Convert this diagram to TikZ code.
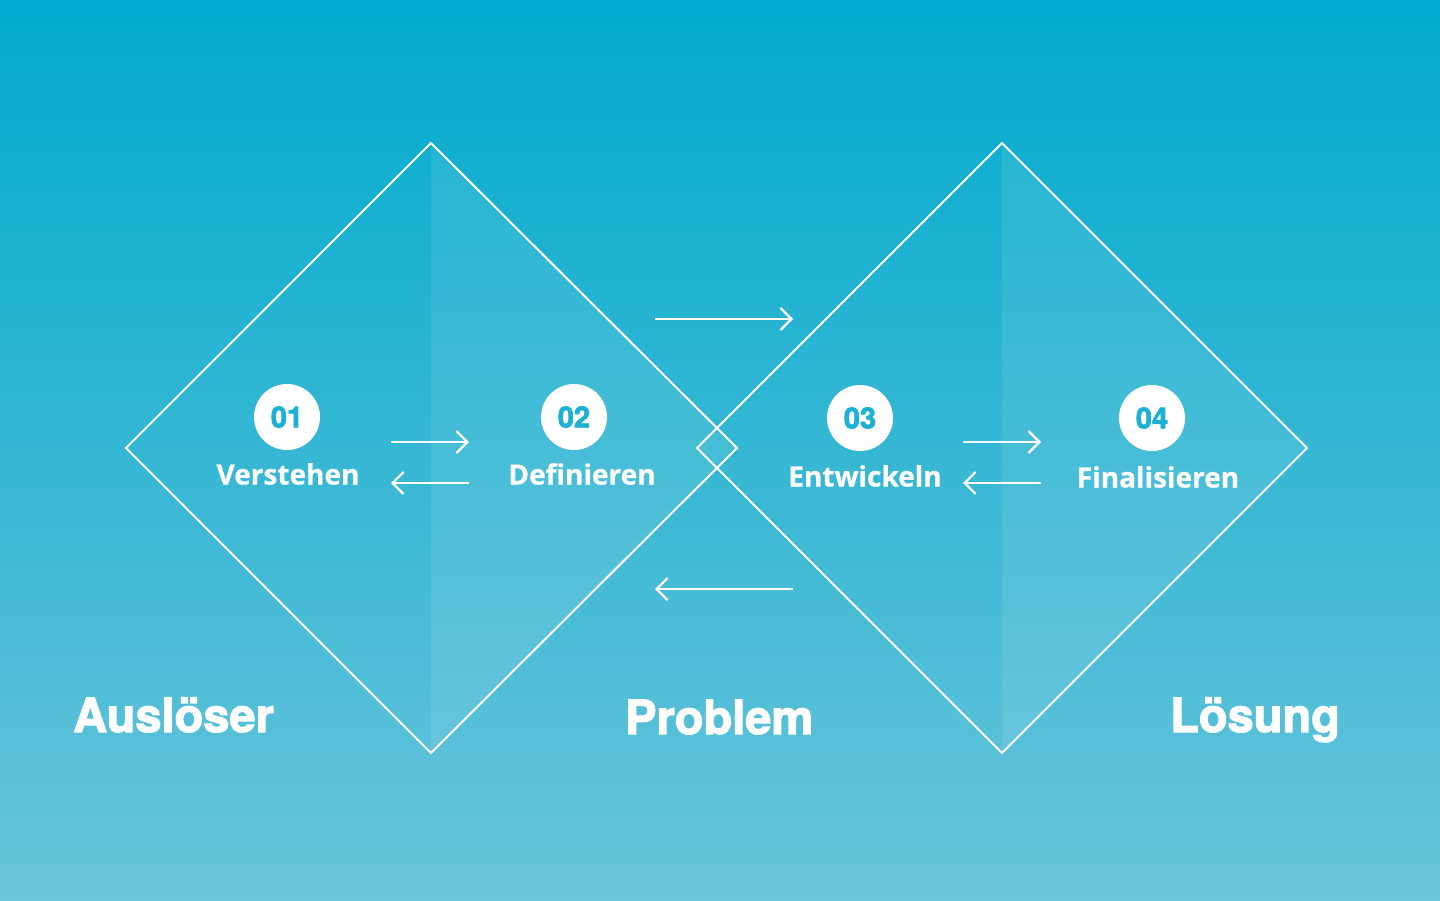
\documentclass[tikz,border=0pt]{standalone}
\usepackage{fontspec}
\usetikzlibrary{arrows.meta}
\newfontfamily\lblfont{Open Sans}[BoldFeatures={FakeBold=0.6}]
\newfontfamily\heavyfont{TeX Gyre Heros}[BoldFeatures={FakeBold=2.4}]
\definecolor{bgtop}{RGB}{0,170,206}
\definecolor{bgbot}{RGB}{106,196,218}
\definecolor{numcol}{RGB}{28,176,212}
\tikzset{
  diam/.style={draw=white, line width=2pt},
  halffill/.style={fill=white, fill opacity=0.09},
  numcirc/.style={circle, fill=white, minimum size=66pt, inner sep=0pt, text=numcol, font=\heavyfont\bfseries\fontsize{29}{29}\selectfont},
  steplabel/.style={text=white, font=\lblfont\bfseries\fontsize{28}{28}\selectfont, inner sep=0pt},
  biglabel/.style={text=white, font=\heavyfont\bfseries\fontsize{47}{47}\selectfont, inner sep=0pt, anchor=base west},
  flow/.style={draw=white, line width=2pt, -{Straight Barb[length=11pt,width=22pt,line width=2.2pt]}}
}
\begin{document}
\begin{tikzpicture}[x=1pt,y=-1pt]
\useasboundingbox (0,0) rectangle (1440,900);
\shade[top color=bgtop, bottom color=bgbot] (0,0) rectangle (1440,900);
% lighter right halves
\fill[halffill] (431,143) -- (737,448) -- (431,753) -- cycle;
\fill[halffill] (1002,143) -- (1307,448) -- (1002,753) -- cycle;
% diamonds
\draw[diam] (431,143) -- (737,448) -- (431,753) -- (126,448) -- cycle;
\draw[diam] (1002,143) -- (1307,448) -- (1002,753) -- (697,448) -- cycle;
% circles
\node[numcirc] (c1) at (287,417) {01};
\node[numcirc] (c2) at (574,417) {02};
\node[numcirc] (c3) at (860,418) {03};
\node[numcirc] (c4) at (1152,418) {04};
% labels
\node[steplabel] (l1) at (288,474) {Verstehen};
\node[steplabel] (l2) at (582,474) {Definieren};
\node[steplabel] (l3) at (865,476) {Entwickeln};
\node[steplabel] (l4) at (1158,477) {Finalisieren};
% arrows
\coordinate (a1s) at (391,442); \coordinate (a1e) at (469,442);
\coordinate (a2s) at (469,483); \coordinate (a2e) at (391,483);
\coordinate (a3s) at (963,442); \coordinate (a3e) at (1041,442);
\coordinate (a4s) at (1041,483); \coordinate (a4e) at (963,483);
\coordinate (b1s) at (655,319); \coordinate (b1e) at (793,319);
\coordinate (b2s) at (793,589); \coordinate (b2e) at (655,589);
\draw[flow] (a1s) -- (a1e);
\draw[flow] (a2s) -- (a2e);
\draw[flow] (a3s) -- (a3e);
\draw[flow] (a4s) -- (a4e);
\draw[flow] (b1s) -- (b1e);
\draw[flow] (b2s) -- (b2e);
% big labels
\node[biglabel] (t1) at (73,732) {Auslöser};
\node[biglabel] (t2) at (625,734) {Problem};
\node[biglabel] (t3) at (1170,732) {Lösung};
\end{tikzpicture}
\end{document}
